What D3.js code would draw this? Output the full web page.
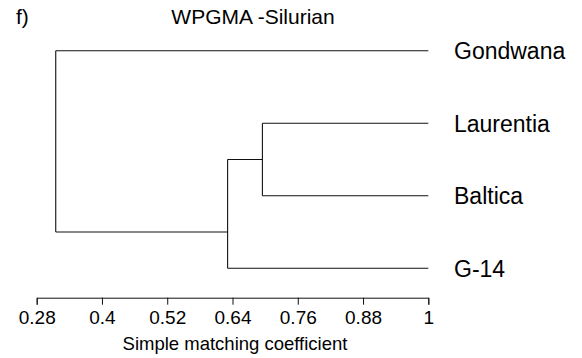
<!DOCTYPE html>
<html>
<head>
<meta charset="utf-8">
<script src="https://cdn.jsdelivr.net/npm/d3@7"></script>
<style>
  body { margin: 0; background: #fff; }
  svg { display: block; font-family: "Liberation Sans", Arial, sans-serif; }
</style>
</head>
<body>
<figure id="dendro" style="margin:0"></figure>
<script>
// leaves top to bottom
const leaves = ["Gondwana", "Laurentia", "Baltica", "G-14"];
// merges (like hclust): left child, right child, similarity where they join
const nodeNames = ["LB", "LBG", "root"];
const nodeLeft = ["Laurentia", "LB", "Gondwana"];
const nodeRight = ["Baltica", "G-14", "LBG"];
const nodeHeights = [0.695, 0.631, 0.315];
const leafHeight = 1;
const ticks = [0.28, 0.4, 0.52, 0.64, 0.76, 0.88, 1];

const width = 582, height = 358;

const svg = d3.select("figure#dendro")
  .append("svg")
  .attr("width", width)
  .attr("height", height);

const x = d3.scaleLinear().domain([0.28, 1]).range([36.7, 428.3]);
const y = d3.scalePoint().domain(leaves).range([50.7, 268.3]);

// work out where every node sits
const info = {};
leaves.forEach((l, i) => {
  info[l] = { y: y(l), h: leafHeight, first: i, last: i };
});
nodeNames.forEach((n, i) => {
  const a = info[nodeLeft[i]], b = info[nodeRight[i]];
  const step = y.step();
  info[n] = {
    h: nodeHeights[i],
    first: a.first,
    last: b.last,
    // R puts the node between the two neighbouring leaves
    y: y.range()[0] + step * (a.last + b.first) / 2,
    top: a.y,
    bottom: b.y
  };
});

const g = svg.append("g")
  .attr("fill", "none")
  .attr("stroke", "#111")
  .attr("stroke-width", 1.1);

nodeNames.forEach((n, i) => {
  const node = info[n];
  g.append("line")
    .attr("x1", x(node.h)).attr("x2", x(node.h))
    .attr("y1", node.top).attr("y2", node.bottom);
  [nodeLeft[i], nodeRight[i]].forEach(c => {
    const child = info[c];
    g.append("line")
      .attr("x1", x(node.h)).attr("x2", x(child.h))
      .attr("y1", child.y).attr("y2", child.y);
  });
});

// leaf labels
svg.selectAll(".leaf")
  .data(leaves)
  .enter()
  .append("text")
  .attr("x", 454)
  .attr("y", d => y(d))
  .attr("dy", "0.36em")
  .attr("font-size", 23)
  .text(d => d);

// axis
const axis = svg.append("g")
  .attr("transform", "translate(0,297.7)")
  .call(d3.axisBottom(x).tickValues(ticks).tickFormat(d3.format("")).tickSize(7).tickPadding(5.5));
axis.select(".domain").attr("stroke", "#111");
axis.selectAll(".tick line").attr("stroke", "#111");
axis.selectAll("text")
  .attr("font-size", 19)
  .attr("font-family", "Liberation Sans, Arial, sans-serif")
  .attr("fill", "#000");

svg.append("text")
  .attr("x", 235)
  .attr("y", 350)
  .attr("text-anchor", "middle")
  .attr("font-size", 18.5)
  .text("Simple matching coefficient");

svg.append("text")
  .attr("x", 253)
  .attr("y", 24)
  .attr("text-anchor", "middle")
  .attr("font-size", 21)
  .text("WPGMA -Silurian");

svg.append("text")
  .attr("x", 16)
  .attr("y", 24)
  .attr("font-size", 21)
  .text("f)");
</script>
</body>
</html>
